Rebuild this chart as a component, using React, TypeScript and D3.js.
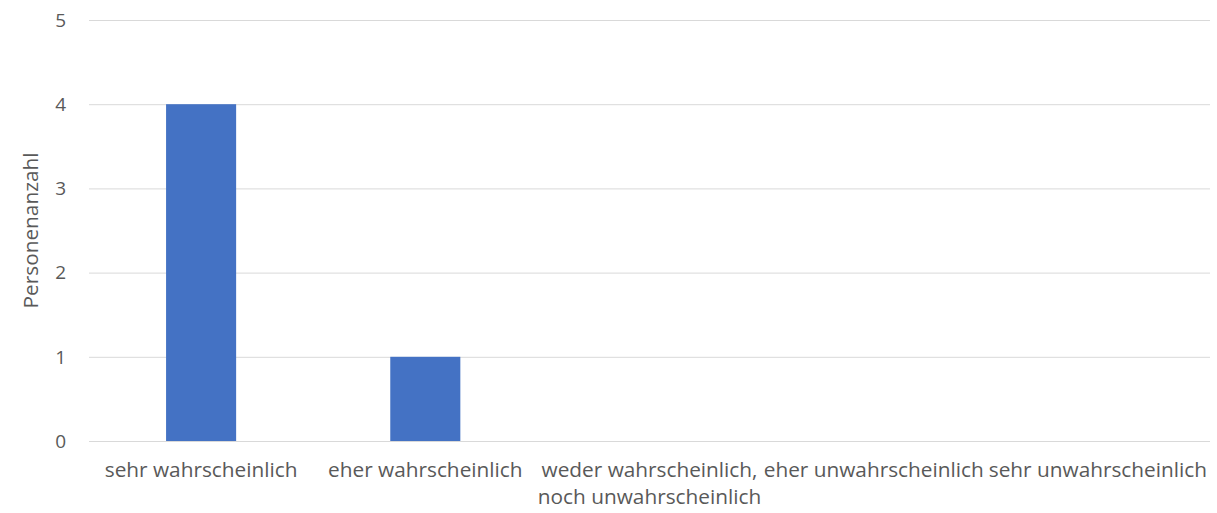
import React, { useRef, useEffect } from 'react';
import * as d3 from 'd3';

const categories = [
  'sehr wahrscheinlich',
  'eher wahrscheinlich',
  'weder wahrscheinlich, noch unwahrscheinlich',
  'eher unwahrscheinlich',
  'sehr unwahrscheinlich',
];
const counts = [4, 1, 0, 0, 0];
const yTicks = [0, 1, 2, 3, 4, 5];
const yTitle = 'Personenanzahl';

const W = 1217;
const H = 513;
const margin = { top: 20, right: 7, bottom: 72, left: 89 };
const FONT = '"Open Sans", sans-serif';
const TEXT = '#595959';
const FS = 20.8;
const TICK_FS = 19;

const App: React.FC = () => {
  const svgRef = useRef<SVGSVGElement>(null);

  useEffect(() => {
    if (!svgRef.current) return;
    const svg = d3.select(svgRef.current);
    svg.selectAll('*').remove();

    const x = d3.scaleBand()
      .domain(categories)
      .range([margin.left, W - margin.right])
      .paddingInner(0.6875)
      .paddingOuter(0.34375);

    const y = d3.scaleLinear()
      .domain([0, 5])
      .range([H - margin.bottom, margin.top]);

    // gridlines
    svg.append('g')
      .selectAll('line')
      .data(yTicks)
      .join('line')
      .attr('x1', margin.left)
      .attr('x2', W - margin.right)
      .attr('y1', d => y(d) + 0.5)
      .attr('y2', d => y(d) + 0.5)
      .attr('stroke', '#d9d9d9')
      .attr('stroke-width', 1);

    // bars
    svg.append('g')
      .selectAll('rect')
      .data(counts)
      .join('rect')
      .attr('x', (_, i) => x(categories[i])!)
      .attr('y', d => y(d))
      .attr('width', x.bandwidth())
      .attr('height', d => y(0) - y(d))
      .attr('fill', '#4472c4');

    // y tick labels
    svg.append('g')
      .selectAll('text')
      .data(yTicks)
      .join('text')
      .attr('x', 66)
      .attr('y', d => y(d))
      .attr('dy', '0.36em')
      .attr('text-anchor', 'end')
      .attr('font-family', FONT)
      .attr('font-size', TICK_FS)
      .attr('fill', TEXT)
      .text(d => d);

    // x labels (wrap the long one)
    const labels = svg.append('g');
    categories.forEach(c => {
      const cx = x(c)! + x.bandwidth() / 2;
      const lines = c.includes(', ') ? [c.split(', ')[0] + ',', c.split(', ')[1]] : [c];
      const t = labels.append('text')
        .attr('x', cx)
        .attr('y', y(0) + 36)
        .attr('text-anchor', 'middle')
        .attr('font-family', FONT)
        .attr('font-size', FS)
        .attr('fill', TEXT);
      lines.forEach((l, i) => {
        t.append('tspan').attr('x', cx).attr('dy', i === 0 ? 0 : 27).text(l);
      });
    });

    // y title
    svg.append('text')
      .attr('transform', `translate(38,${(y(0) + y(5)) / 2}) rotate(-90)`)
      .attr('text-anchor', 'middle')
      .attr('font-family', FONT)
      .attr('font-size', FS)
      .attr('fill', TEXT)
      .text(yTitle);
  }, []);

  return (
    <svg ref={svgRef} width={W} height={H}
      style={{ position: 'absolute', left: 0, top: 0, background: '#fff' }} />
  );
};

export default App;
